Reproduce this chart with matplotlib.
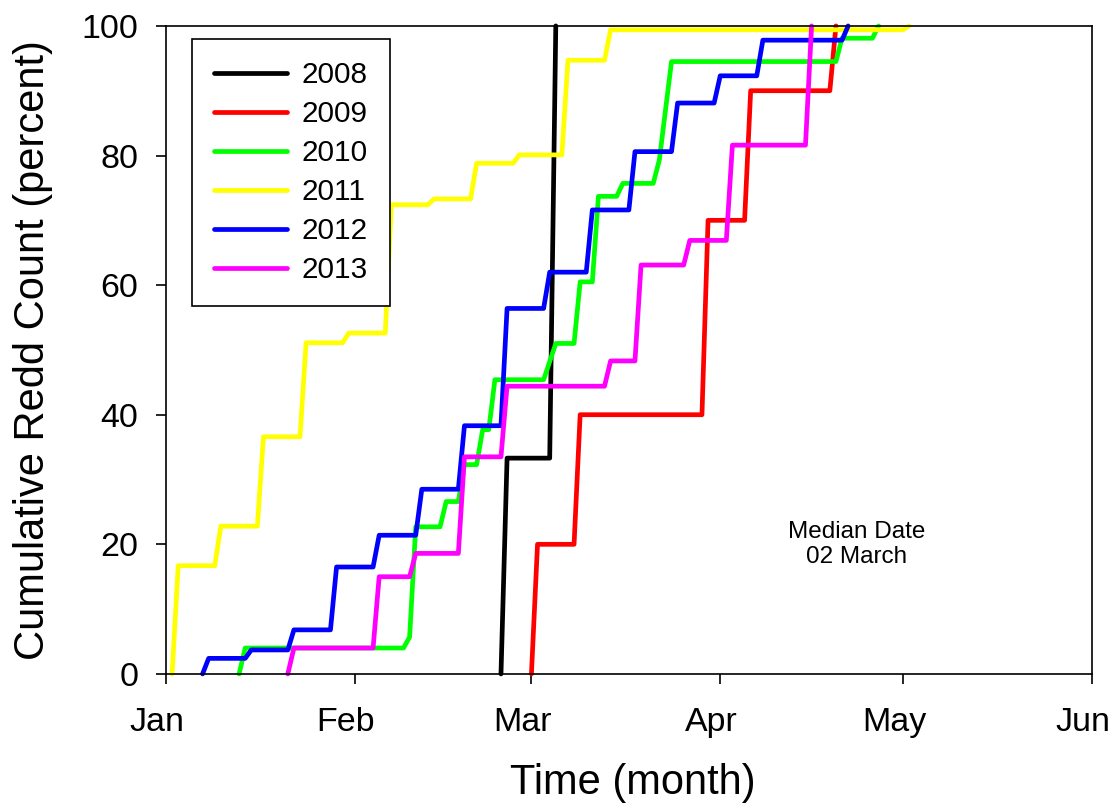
import matplotlib
matplotlib.use("Agg")
import matplotlib.pyplot as plt
from matplotlib.transforms import ScaledTranslation

plt.rcParams['font.family'] = ['Liberation Sans', 'DejaVu Sans']

# days after 1 January (leap-year calendar) and cumulative percent of redds
days_2008 = [55, 56, 63, 64]
pct_2008 = [0, 33.3, 33.3, 100]

days_2009 = [60, 61, 67, 68, 88, 89, 95, 96, 109, 110]
pct_2009 = [0, 20.0, 20.0, 40.0, 40.0, 70.0, 70.0, 90.0, 90.0, 100]

days_2010 = [12, 13, 39, 40, 41, 45, 46, 48, 49, 51, 52, 53, 54, 62, 64, 67, 68,
             70, 71, 74, 75, 80, 81, 83, 110, 111, 116, 117]
pct_2010 = [0, 4.0, 4.0, 5.7, 22.7, 22.7, 26.6, 26.6, 32.3, 32.3, 37.7, 37.7, 45.4,
            45.4, 51.0, 51.0, 60.5, 60.5, 73.7, 73.7, 75.7, 75.7, 79.3, 94.5, 94.5,
            98.1, 98.1, 100]

days_2011 = [1, 2, 8, 9, 15, 16, 22, 23, 29, 30, 36, 37, 43, 44, 50, 51, 57, 58,
             65, 66, 72, 73, 121, 122]
pct_2011 = [0, 16.7, 16.7, 22.8, 22.8, 36.6, 36.6, 51.1, 51.1, 52.6, 52.6, 72.4,
            72.4, 73.3, 73.3, 78.8, 78.8, 80.1, 80.1, 94.7, 94.7, 99.4, 99.4, 100]

days_2012 = [6, 7, 13, 14, 20, 21, 27, 28, 34, 35, 41, 42, 48, 49, 55, 56, 62, 63,
             69, 70, 76, 77, 83, 84, 90, 91, 97, 98, 111, 112]
pct_2012 = [0, 2.4, 2.4, 3.7, 3.7, 6.8, 6.8, 16.5, 16.5, 21.4, 21.4, 28.5, 28.5,
            38.3, 38.3, 56.4, 56.4, 62.0, 62.0, 71.6, 71.6, 80.6, 80.6, 88.1, 88.1,
            92.3, 92.3, 97.8, 97.8, 100]

days_2013 = [20, 21, 34, 35, 40, 41, 48, 49, 55, 56, 72, 73, 77, 78, 85, 86, 92,
             93, 105, 106]
pct_2013 = [0, 4.0, 4.0, 15.0, 15.0, 18.6, 18.6, 33.5, 33.5, 44.4, 44.4, 48.3,
            48.3, 63.1, 63.1, 66.9, 66.9, 81.6, 81.6, 100]

years = ['2008', '2009', '2010', '2011', '2012', '2013']
colors = ['#000000', '#ff0000', '#00ff00', '#ffff00', '#0000ff', '#ff00ff']

month_starts = [0, 31, 60, 91, 121, 152]
month_labels = ['Jan', 'Feb', 'Mar', 'Apr', 'May', 'Jun']

series = [
    (days_2008, pct_2008),
    (days_2009, pct_2009),
    (days_2010, pct_2010),
    (days_2011, pct_2011),
    (days_2012, pct_2012),
    (days_2013, pct_2013),
]

fig = plt.figure(figsize=(11.18, 8.10), dpi=100)
ax = fig.add_axes([0.1485, 0.168, 0.828, 0.800])

for (d, p), year, c in zip(series, years, colors):
    ax.plot(d, p, color=c, lw=3.4, label=year, clip_on=False,
            solid_capstyle='round', solid_joinstyle='round')

ax.set_xlim(0, 152)
ax.set_ylim(0, 100)
ax.set_xticks(month_starts)
ax.set_xticklabels(month_labels)
ax.set_yticks([0, 20, 40, 60, 80, 100])

ax.tick_params(axis='both', direction='out', length=7, width=1.2, labelsize=24.5)
ax.tick_params(axis='x', pad=17)
ax.tick_params(axis='y', pad=13)
for s in ax.spines.values():
    s.set_linewidth(1.2)

# month names sit a little left of their tick marks
shift = ScaledTranslation(-0.09, 0, fig.dpi_scale_trans)
for lbl in ax.get_xticklabels():
    lbl.set_transform(lbl.get_transform() + shift)

ax.set_xlabel('Time (month)', fontsize=30)
ax.set_ylabel('Cumulative Redd Count (percent)', fontsize=30)
ax.xaxis.set_label_coords(0.504, -0.138)
ax.yaxis.set_label_coords(-0.122, 0.5)

ax.text(0.746, 0.2, 'Median Date\n02 March', transform=ax.transAxes,
        ha='center', va='center', fontsize=17.5)

leg = ax.legend(loc='upper left', bbox_to_anchor=(0.028, 0.98), borderaxespad=0,
                fontsize=21.4, fancybox=False, framealpha=1, edgecolor='black',
                borderpad=0.75, labelspacing=0.37, handlelength=2.45, handletextpad=0.5)
leg.get_frame().set_linewidth(1.2)

fig.savefig('out.png', dpi=100)
